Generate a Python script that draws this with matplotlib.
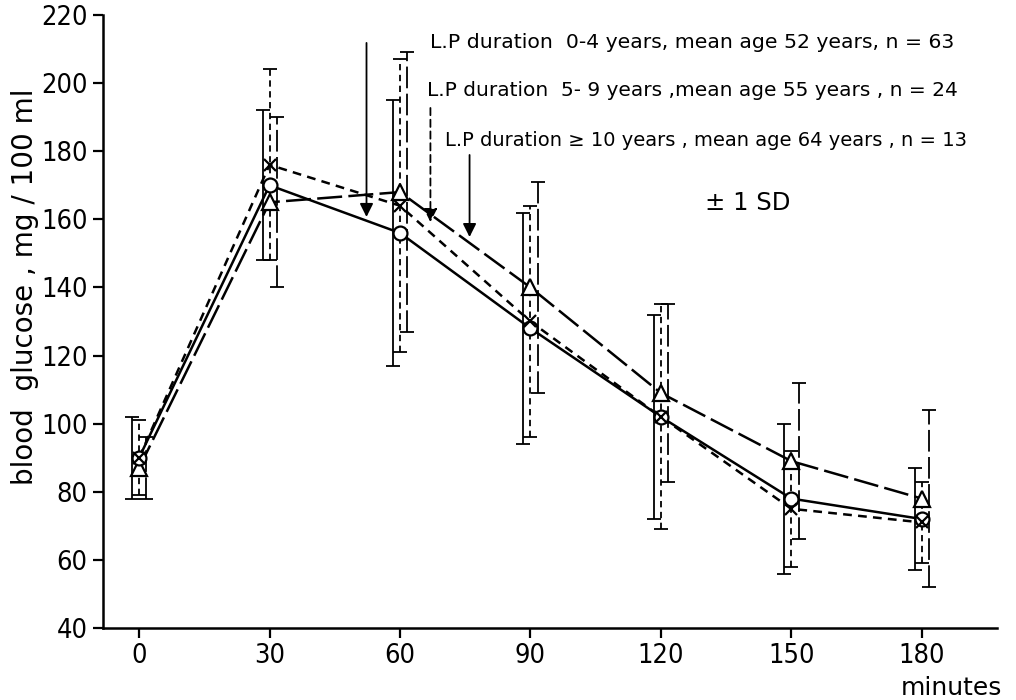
import matplotlib
matplotlib.use("Agg")
import matplotlib.pyplot as plt
import numpy as np

# ---- data ----
times = [0, 30, 60, 90, 120, 150, 180]
mean_0_4 = [90, 170, 156, 128, 102, 78, 72]
sd_0_4 = [12, 22, 39, 34, 30, 22, 15]
mean_5_9 = [90, 176, 164, 130, 102, 75, 71]
sd_5_9 = [11, 28, 43, 34, 33, 17, 12]
mean_10 = [87, 165, 168, 140, 109, 89, 78]
sd_10 = [9, 25, 41, 31, 26, 23, 26]
y_ticks = [40, 60, 80, 100, 120, 140, 160, 180, 200, 220]
x_ticks = [0, 30, 60, 90, 120, 150, 180]
legend_texts = [
    "L.P duration  0-4 years, mean age 52 years, n = 63",
    "L.P duration  5- 9 years ,mean age 55 years , n = 24",
    "L.P duration \u2265 10 years , mean age 64 years , n = 13",
]
sd_text = "\u00b1 1 SD"

W, H = 1016, 700
fig = plt.figure(figsize=(W / 100, H / 100), dpi=100)
ax = fig.add_axes([103 / W, 1 - 628 / H, (997 - 103) / W, (628 - 15) / H])
ax.set_xlim(-8.3, 197.3)
ax.set_ylim(40, 220)

t = np.array(times, dtype=float)
off = 1.6

short_dash = (0, (3.5, 2.5))
long_dash = (0, (10, 2.5))

# error bars
ax.errorbar(t - off, mean_0_4, yerr=sd_0_4, fmt='none', ecolor='k',
            elinewidth=1.3, capsize=5, capthick=1.3, zorder=2)
eb2 = ax.errorbar(t, mean_5_9, yerr=sd_5_9, fmt='none', ecolor='k',
                  elinewidth=1.3, capsize=5, capthick=1.3, zorder=2)
for lc in eb2[2]:
    lc.set_linestyle(short_dash)
eb3 = ax.errorbar(t + off + 0.1, mean_10, yerr=sd_10, fmt='none', ecolor='k',
                  elinewidth=1.3, capsize=5, capthick=1.3, zorder=2)
for lc in eb3[2]:
    lc.set_linestyle((0, (12, 3)))

# lines
ax.plot(t, mean_0_4, '-', color='k', lw=1.8, zorder=3)
ax.plot(t, mean_5_9, linestyle=short_dash, color='k', lw=1.8, zorder=3)
ax.plot(t, mean_10, linestyle=long_dash, color='k', lw=1.8, zorder=3)
# markers
ax.plot(t, mean_0_4, 'o', ms=10, mfc='white', mec='k', mew=1.6, zorder=5)
ax.plot(t, mean_5_9, 'x', ms=9, mec='k', mew=1.6, zorder=6)
ax.plot(t, mean_10, '^', ms=12, mfc='white', mec='k', mew=1.6, zorder=4)

# arrows
arrow_kw = dict(arrowstyle='-|>', color='k', lw=1.3, mutation_scale=20,
                shrinkA=0, shrinkB=0)
ax.annotate('', xy=(52.3, 160.7), xytext=(52.3, 211.8), arrowprops=arrow_kw)
ax.annotate('', xy=(67.0, 159.2), xytext=(67.0, 192.7),
            arrowprops=dict(arrow_kw, linestyle=(0, (4, 2.5))))
ax.annotate('', xy=(76.0, 154.8), xytext=(76.0, 178.9), arrowprops=arrow_kw)

# spines / ticks
for s in ('top', 'right'):
    ax.spines[s].set_visible(False)
for s in ('left', 'bottom'):
    ax.spines[s].set_linewidth(1.8)
ax.set_yticks(y_ticks)
ax.set_xticks(x_ticks)
tick_font = dict(family='DejaVu Sans', stretch='condensed', size=19.5)
ax.set_yticklabels([str(v) for v in y_ticks], fontdict=tick_font)
ax.set_xticklabels([str(v) for v in x_ticks], fontdict=tick_font)
ax.tick_params(axis='both', direction='out', length=7, width=1.6, pad=4)

fig.text(25 / W, 1 - 287 / H, "blood  glucose , mg / 100 ml", rotation=90,
         ha='center', va='center', fontsize=20, family='DejaVu Sans')
fig.text(1002 / W, 1 - 688 / H, "minutes", ha='right', va='center',
         fontsize=18, family='DejaVu Sans')

fig.text(430 / W, 1 - 43 / H, legend_texts[0], ha='left', va='center',
         family='DejaVu Sans', fontsize=14.7)
fig.text(427 / W, 1 - 91 / H, legend_texts[1], ha='left', va='center',
         family='DejaVu Sans', fontsize=14.5)
fig.text(445 / W, 1 - 141 / H, legend_texts[2], ha='left', va='center',
         family='DejaVu Sans', fontsize=14.0)
fig.text(705 / W, 1 - 203 / H, sd_text, ha='left', va='center',
         family='DejaVu Sans', fontsize=17.5)

fig.savefig("out.png", dpi=100)
